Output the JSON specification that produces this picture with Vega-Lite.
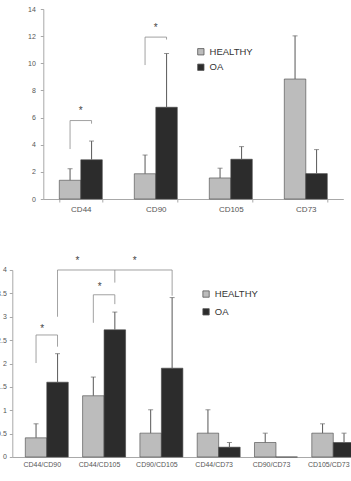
{
  "$schema": "https://vega.github.io/schema/vega-lite/v6.json",
  "padding": {"left": -3.7, "top": 5, "right": -23, "bottom": 0},
  "autosize": {"type": "pad"},
  "center": true,
  "bounds": "full",
  "spacing": 42,
  "config": {
    "view": {"stroke": null},
    "font": "Liberation Sans",
    "axis": {"grid": false, "title": null, "domainColor": "#a8a8a8", "tickColor": "#a8a8a8", "labelColor": "#555555", "labelFont": "Liberation Sans", "labelOverlap": false}
  },
  "resolve": {"scale": {"color": "independent"}, "legend": {"color": "independent"}},
  "datasets": {
    "topBars": [
      {"cat": "CD44", "grp": "HEALTHY", "mean": 1.38, "err": 2.23},
      {"cat": "CD44", "grp": "OA", "mean": 2.89, "err": 4.27},
      {"cat": "CD90", "grp": "HEALTHY", "mean": 1.86, "err": 3.24},
      {"cat": "CD90", "grp": "OA", "mean": 6.76, "err": 10.72},
      {"cat": "CD105", "grp": "HEALTHY", "mean": 1.55, "err": 2.27},
      {"cat": "CD105", "grp": "OA", "mean": 2.93, "err": 3.86},
      {"cat": "CD73", "grp": "HEALTHY", "mean": 8.84, "err": 12.02},
      {"cat": "CD73", "grp": "OA", "mean": 1.87, "err": 3.64}
    ],
    "topBr": [
      {"id": "a", "o": 1, "cat": "CD44", "grp": "HEALTHY", "v": 3.68},
      {"id": "a", "o": 2, "cat": "CD44", "grp": "HEALTHY", "v": 5.78},
      {"id": "a", "o": 3, "cat": "CD44", "grp": "OA", "v": 5.78},
      {"id": "a", "o": 4, "cat": "CD44", "grp": "OA", "v": 5.55},
      {"id": "b", "o": 1, "cat": "CD90", "grp": "HEALTHY", "v": 9.87},
      {"id": "b", "o": 2, "cat": "CD90", "grp": "HEALTHY", "v": 11.93},
      {"id": "b", "o": 3, "cat": "CD90", "grp": "OA", "v": 11.93},
      {"id": "b", "o": 4, "cat": "CD90", "grp": "OA", "v": 11.75}
    ],
    "topStars": [
      {"cat": "CD44", "v": 6.45, "t": "*"},
      {"cat": "CD90", "v": 12.6, "t": "*"}
    ],
    "botBars": [
      {"cat": "CD44/CD90", "grp": "HEALTHY", "mean": 0.41, "err": 0.71},
      {"cat": "CD44/CD90", "grp": "OA", "mean": 1.6, "err": 2.21},
      {"cat": "CD44/CD105", "grp": "HEALTHY", "mean": 1.31, "err": 1.71},
      {"cat": "CD44/CD105", "grp": "OA", "mean": 2.72, "err": 3.1},
      {"cat": "CD90/CD105", "grp": "HEALTHY", "mean": 0.51, "err": 1.01},
      {"cat": "CD90/CD105", "grp": "OA", "mean": 1.9, "err": 3.41},
      {"cat": "CD44/CD73", "grp": "HEALTHY", "mean": 0.51, "err": 1.01},
      {"cat": "CD44/CD73", "grp": "OA", "mean": 0.21, "err": 0.31},
      {"cat": "CD90/CD73", "grp": "HEALTHY", "mean": 0.31, "err": 0.51},
      {"cat": "CD90/CD73", "grp": "OA", "mean": 0, "err": null},
      {"cat": "CD105/CD73", "grp": "HEALTHY", "mean": 0.51, "err": 0.71},
      {"cat": "CD105/CD73", "grp": "OA", "mean": 0.31, "err": 0.51}
    ],
    "botBr": [
      {"id": "a", "o": 1, "cat": "CD44/CD90", "grp": "HEALTHY", "v": 2.01},
      {"id": "a", "o": 2, "cat": "CD44/CD90", "grp": "HEALTHY", "v": 2.61},
      {"id": "a", "o": 3, "cat": "CD44/CD90", "grp": "OA", "v": 2.61},
      {"id": "a", "o": 4, "cat": "CD44/CD90", "grp": "OA", "v": 2.36},
      {"id": "b", "o": 1, "cat": "CD44/CD105", "grp": "HEALTHY", "v": 2.87},
      {"id": "b", "o": 2, "cat": "CD44/CD105", "grp": "HEALTHY", "v": 3.47},
      {"id": "b", "o": 3, "cat": "CD44/CD105", "grp": "OA", "v": 3.47},
      {"id": "b", "o": 4, "cat": "CD44/CD105", "grp": "OA", "v": 3.27},
      {"id": "c", "o": 1, "cat": "CD44/CD90", "grp": "OA", "v": 3.0},
      {"id": "c", "o": 2, "cat": "CD44/CD90", "grp": "OA", "v": 4.0},
      {"id": "c", "o": 3, "cat": "CD90/CD105", "grp": "OA", "v": 4.0},
      {"id": "c", "o": 4, "cat": "CD90/CD105", "grp": "OA", "v": 3.45},
      {"id": "d", "o": 1, "cat": "CD44/CD105", "grp": "OA", "v": 4.0},
      {"id": "d", "o": 2, "cat": "CD44/CD105", "grp": "OA", "v": 3.73}
    ],
    "botStars": [
      {"cat": "CD44/CD90", "v": 2.73, "t": "*"},
      {"cat": "CD44/CD105", "v": 3.63, "t": "*"}
    ],
    "botStarsHi": [
      {"cat": "CD44/CD105", "v": 4.2, "t": "*"},
      {"cat": "CD90/CD105", "v": 4.2, "t": "*"}
    ]
  },
  "vconcat": [
    {
      "width": 300,
      "height": 190,
      "encoding": {
        "x": {
          "field": "cat", "type": "nominal",
          "sort": ["CD44", "CD90", "CD105", "CD73"],
          "scale": {"paddingInner": 0.427, "paddingOuter": 0.2135},
          "axis": {"labelAngle": 0, "tickBand": "extent", "tickSize": 3, "labelPadding": 3, "labelFontSize": 8}
        },
        "y": {"type": "quantitative", "scale": {"domain": [0, 14]},
              "axis": {"values": [0, 2, 4, 6, 8, 10, 12, 14], "labelOverlap": false, "labelBound": false, "tickSize": 3, "labelPadding": 5, "labelFontSize": 7}}
      },
      "layer": [
        {
          "data": {"name": "topBars"},
          "mark": {"type": "bar", "stroke": "#444444", "strokeWidth": 0.6},
          "encoding": {
            "xOffset": {"field": "grp", "type": "nominal", "sort": ["HEALTHY", "OA"]},
            "y": {"field": "mean"},
            "color": {
              "field": "grp", "type": "nominal",
              "scale": {"domain": ["HEALTHY", "OA"], "range": ["#bcbcbc", "#2c2c2c"]},
              "legend": {"orient": "none", "legendX": 152.8, "legendY": 38, "title": null, "symbolType": "square", "symbolSize": 40,
                         "labelFontSize": 9.5, "labelColor": "#333333", "rowPadding": 4.5, "padding": 0, "labelOffset": 4,
                         "symbolStrokeColor": "#555555", "symbolStrokeWidth": 0.8}
            }
          }
        },
        {
          "data": {"name": "topBars"},
          "mark": {"type": "rule", "color": "#666666", "strokeWidth": 1.1},
          "encoding": {
            "xOffset": {"field": "grp", "type": "nominal", "sort": ["HEALTHY", "OA"]},
            "y": {"field": "mean"},
            "y2": {"field": "err"}
          }
        },
        {
          "data": {"name": "topBars"},
          "mark": {"type": "tick", "orient": "horizontal", "color": "#666666", "size": 5, "thickness": 1},
          "encoding": {
            "xOffset": {"field": "grp", "type": "nominal", "sort": ["HEALTHY", "OA"]},
            "y": {"field": "err"}
          }
        },
        {
          "data": {"name": "topBr"},
          "mark": {"type": "line", "color": "#8a8a8a", "strokeWidth": 0.8},
          "encoding": {
            "xOffset": {"field": "grp", "type": "nominal", "sort": ["HEALTHY", "OA"]},
            "y": {"field": "v"},
            "detail": {"field": "id"},
            "order": {"field": "o"}
          }
        },
        {
          "data": {"name": "topStars"},
          "mark": {"type": "text", "fontSize": 10, "color": "#444444", "baseline": "middle"},
          "encoding": {
            "y": {"field": "v"},
            "text": {"field": "t"}
          }
        }
      ]
    },
    {
      "width": 362,
      "height": 187,
      "encoding": {
        "x": {
          "field": "cat", "type": "nominal",
          "sort": ["CD44/CD90", "CD44/CD105", "CD90/CD105", "CD44/CD73", "CD90/CD73", "CD105/CD73"],
          "scale": {"paddingInner": 0.407, "paddingOuter": 0.3624, "align": 0.313},
          "axis": {"labelAngle": 0, "ticks": false, "labelPadding": 4, "labelFontSize": 7}
        },
        "y": {"type": "quantitative", "scale": {"domain": [0, 4]},
              "axis": {"values": [0, 0.5, 1, 1.5, 2, 2.5, 3, 3.5, 4], "format": ".1~f", "labelOverlap": false, "labelBound": false, "tickSize": 3, "labelPadding": 3, "labelFontSize": 7}}
      },
      "layer": [
        {
          "data": {"name": "botBars"},
          "mark": {"type": "bar", "stroke": "#444444", "strokeWidth": 0.6},
          "encoding": {
            "xOffset": {"field": "grp", "type": "nominal", "sort": ["HEALTHY", "OA"]},
            "y": {"field": "mean"},
            "color": {
              "field": "grp", "type": "nominal",
              "scale": {"domain": ["HEALTHY", "OA"], "range": ["#bcbcbc", "#2c2c2c"]},
              "legend": {"orient": "none", "legendX": 189, "legendY": 19.3, "title": null, "symbolType": "square", "symbolSize": 40,
                         "labelFontSize": 9.5, "labelColor": "#333333", "rowPadding": 6.8, "padding": 0, "labelOffset": 4,
                         "symbolStrokeColor": "#555555", "symbolStrokeWidth": 0.8}
            }
          }
        },
        {
          "data": {"name": "botBars"},
          "mark": {"type": "rule", "color": "#666666", "strokeWidth": 1.1},
          "encoding": {
            "xOffset": {"field": "grp", "type": "nominal", "sort": ["HEALTHY", "OA"]},
            "y": {"field": "mean"},
            "y2": {"field": "err"}
          }
        },
        {
          "data": {"name": "botBars"},
          "mark": {"type": "tick", "orient": "horizontal", "color": "#666666", "size": 5, "thickness": 1},
          "encoding": {
            "xOffset": {"field": "grp", "type": "nominal", "sort": ["HEALTHY", "OA"]},
            "y": {"field": "err"}
          }
        },
        {
          "data": {"name": "botBr"},
          "mark": {"type": "line", "color": "#8a8a8a", "strokeWidth": 0.8},
          "encoding": {
            "xOffset": {"field": "grp", "type": "nominal", "sort": ["HEALTHY", "OA"]},
            "y": {"field": "v"},
            "detail": {"field": "id"},
            "order": {"field": "o"}
          }
        },
        {
          "data": {"name": "botStars"},
          "mark": {"type": "text", "fontSize": 10, "color": "#444444", "baseline": "middle"},
          "encoding": {
            "y": {"field": "v"},
            "text": {"field": "t"}
          }
        },
        {
          "data": {"name": "botStarsHi"},
          "mark": {"type": "text", "fontSize": 10, "color": "#444444", "baseline": "middle"},
          "encoding": {
            "x": {"field": "cat", "type": "nominal", "bandPosition": -0.15,
                  "sort": ["CD44/CD90", "CD44/CD105", "CD90/CD105", "CD44/CD73", "CD90/CD73", "CD105/CD73"]},
            "y": {"field": "v"},
            "text": {"field": "t"}
          }
        }
      ]
    }
  ]
}
